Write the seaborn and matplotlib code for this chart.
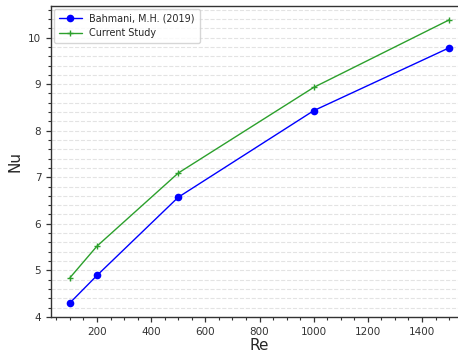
import matplotlib
matplotlib.use("Agg")
import matplotlib.pyplot as plt
import seaborn as sns
import pandas as pd
from matplotlib.ticker import MultipleLocator

re_vals = [100, 200, 500, 1000, 1500]
nu_bahmani = [4.30, 4.89, 6.57, 8.43, 9.78]
nu_current = [4.84, 5.52, 7.09, 8.93, 10.38]
series_names = ["Bahmani, M.H. (2019)", "Current Study"]

GREEN = "#2ca02c"

sns.set_style("ticks")
plt.rcParams['font.family'] = ['DejaVu Sans']

df = pd.DataFrame({
    "Re": re_vals * 2,
    "Nu": nu_bahmani + nu_current,
    "series": [series_names[0]] * len(re_vals) + [series_names[1]] * len(re_vals),
})

W, H = 458, 353
fig = plt.figure(figsize=(W / 100, H / 100), dpi=100)
ax = fig.add_axes([51 / W, (H - 317) / H, (468 - 51) / W, (317 - 6) / H])

sns.lineplot(data=df, x="Re", y="Nu", hue="series", style="series",
             palette={series_names[0]: "blue", series_names[1]: GREEN},
             markers={series_names[0]: "o", series_names[1]: "P"},
             dashes=False, ax=ax, linewidth=1.0, markersize=5.5,
             markeredgewidth=0)


def fix_plus(ln):
    ln.set_marker("+")
    ln.set_markersize(5)
    ln.set_markeredgewidth(1.0)
    ln.set_markeredgecolor(GREEN)


for ln in ax.get_lines():
    if ln.get_color() == GREEN:
        fix_plus(ln)

ax.set_xlim(30, 1570)
ax.set_ylim(3.996, 10.68)
ax.xaxis.set_major_locator(MultipleLocator(200))
ax.xaxis.set_minor_locator(MultipleLocator(50))
ax.yaxis.set_major_locator(MultipleLocator(1))
ax.yaxis.set_minor_locator(MultipleLocator(0.2))
ax.grid(axis="y", which="both", linestyle="--", color="#e3e3e3", linewidth=0.8)
ax.grid(axis="x", which="both", visible=False)
ax.tick_params(axis="both", which="major", labelsize=7.5, length=3.5, width=0.9, colors="#333333")
ax.tick_params(axis="both", which="minor", length=2, width=0.8, colors="#333333")
for s in ax.spines.values():
    s.set_color("#333333")
    s.set_linewidth(1.0)
ax.set_xlabel("Re", fontsize=11, labelpad=1)
ax.set_ylabel("Nu", fontsize=11, labelpad=4)

handles, labels = ax.get_legend_handles_labels()
for h in handles:
    if h.get_color() == GREEN:
        fix_plus(h)
ax.legend(handles, labels, loc="upper left", fontsize=6.9, frameon=True,
          borderpad=0.5, labelspacing=0.45, handlelength=2.4,
          bbox_to_anchor=(0.0, 1.0), borderaxespad=0.3)

fig.savefig("out.png", dpi=100)
